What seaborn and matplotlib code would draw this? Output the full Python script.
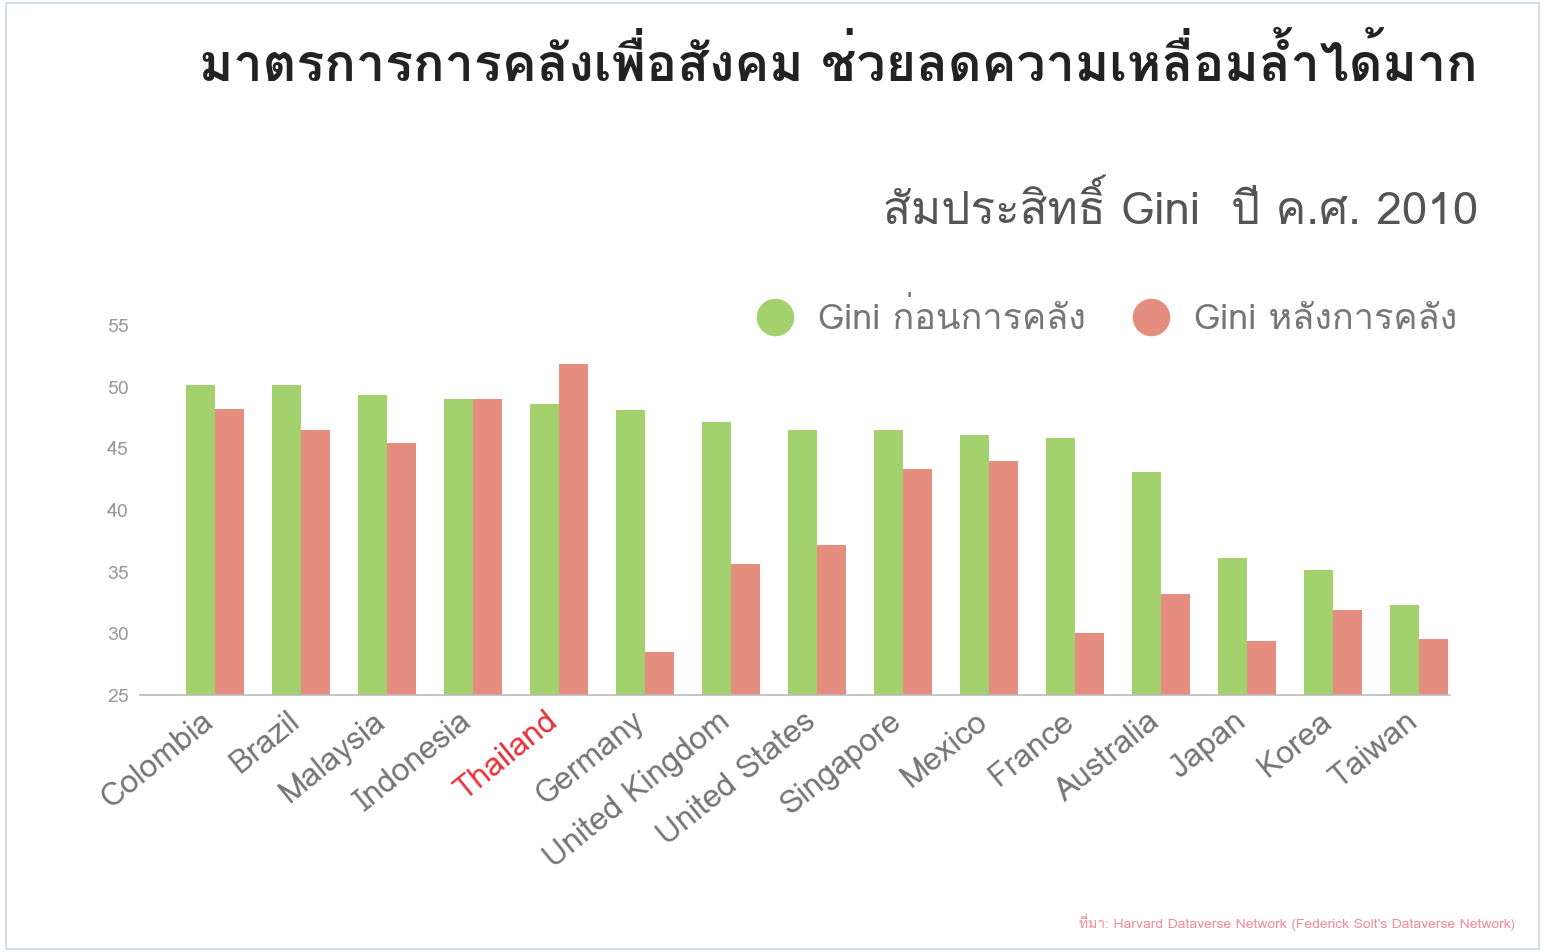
import matplotlib
matplotlib.use("Agg")
import matplotlib.pyplot as plt
import matplotlib.transforms as mtransforms
from matplotlib import font_manager
from matplotlib.lines import Line2D
from matplotlib.patches import Rectangle
import seaborn as sns
import pandas as pd

countries = ["Colombia", "Brazil", "Malaysia", "Indonesia", "Thailand", "Germany",
             "United Kingdom", "United States", "Singapore", "Mexico", "France",
             "Australia", "Japan", "Korea", "Taiwan"]
gini_before = [50.1, 50.1, 49.3, 49.0, 48.6, 48.1, 47.1, 46.5, 46.5, 46.1, 45.8, 43.1, 36.1, 35.1, 32.3]
gini_after = [48.2, 46.5, 45.4, 49.0, 51.8, 28.5, 35.6, 37.2, 43.3, 44.0, 30.0, 33.2, 29.4, 31.9, 29.5]
series_names = ["Gini ก่อนการคลัง", "Gini หลังการคลัง"]
yticks = [25, 30, 35, 40, 45, 50, 55]
title = "มาตรการการคลังเพื่อสังคม ช่วยลดความเหลื่อมล้ำได้มาก"
subtitle = "สัมประสิทธิ์ Gini  ปี ค.ศ. 2010"
source = "ที่มา: Harvard Dataverse Network (Federick Solt's Dataverse Network)"

sns.set_theme(style="white")

# find a font with Thai glyphs
thai_fonts = []
for f in font_manager.fontManager.ttflist:
    try:
        ft = matplotlib.ft2font.FT2Font(f.fname)
        if 0x0E01 in ft.get_charmap():
            thai_fonts.append(f.name)
    except Exception:
        pass
thai_fonts = list(dict.fromkeys(thai_fonts))
families = thai_fonts[:1] + ["DejaVu Sans"]
plt.rcParams["font.family"] = families

df = pd.DataFrame({
    "country": countries * 2,
    "gini": gini_before + gini_after,
    "series": [series_names[0]] * len(countries) + [series_names[1]] * len(countries),
})

green = "#a2d16e"
red = "#e58d7e"

fig = plt.figure(figsize=(15.45, 9.52), dpi=100)
ax = fig.add_axes([140 / 1545, 1 - 695 / 952, (1450 - 140) / 1545, (695 - 325) / 952])
sns.barplot(data=df, x="country", y="gini", hue="series", palette=[green, red],
            width=0.68, gap=0, ax=ax, legend=False, saturation=1, linewidth=0)
ax.set_ylim(25, 55)
ax.set_xlim(-0.87, 14.36)
ax.set_yticks(yticks)
ax.set_yticklabels([str(t) for t in yticks], color="#9a9a9a", fontsize=14)
ax.set_xlabel("")
ax.set_ylabel("")
for s in ["top", "right", "left"]:
    ax.spines[s].set_visible(False)
ax.spines["bottom"].set_color("#bbbbbb")
ax.spines["bottom"].set_linewidth(1.2)
ax.tick_params(axis="both", length=0, pad=8)
ax.set_xticks(range(len(countries)))
ax.set_xticklabels(countries, rotation=39, ha="right", rotation_mode="anchor",
                   fontsize=23, color="#757575")
offset = mtransforms.ScaledTranslation(-14 / 100, 0, fig.dpi_scale_trans)
for lbl in ax.get_xticklabels():
    lbl.set_transform(lbl.get_transform() + offset)
    if lbl.get_text() == "Thailand":
        lbl.set_color("#e8323c")

fig.text(1478 / 1545, 1 - 65 / 952, title, ha="right", va="center",
         fontsize=37.5, fontweight="bold", color="#222222")
fig.text(1478 / 1545, 1 - 208 / 952, subtitle, ha="right", va="center",
         fontsize=33, color="#555555")
fig.text(1515 / 1545, 1 - 922 / 952, source, ha="right", va="center",
         fontsize=10, color="#f28a98")

handles = [Line2D([], [], marker="o", linestyle="", markersize=26, color=green),
           Line2D([], [], marker="o", linestyle="", markersize=26, color=red)]
fig.legend(handles, series_names, loc="center right", ncol=2,
           bbox_to_anchor=(1490 / 1545, 1 - 318 / 952), frameon=False,
           fontsize=26, labelcolor="#777777", handletextpad=0.2, columnspacing=0.8)

fig.patches.append(Rectangle((0.004, 0.003), 0.992, 0.994, transform=fig.transFigure,
                             fill=False, edgecolor="#c8d6ea", linewidth=1.2))

fig.savefig("out.png", dpi=100)
